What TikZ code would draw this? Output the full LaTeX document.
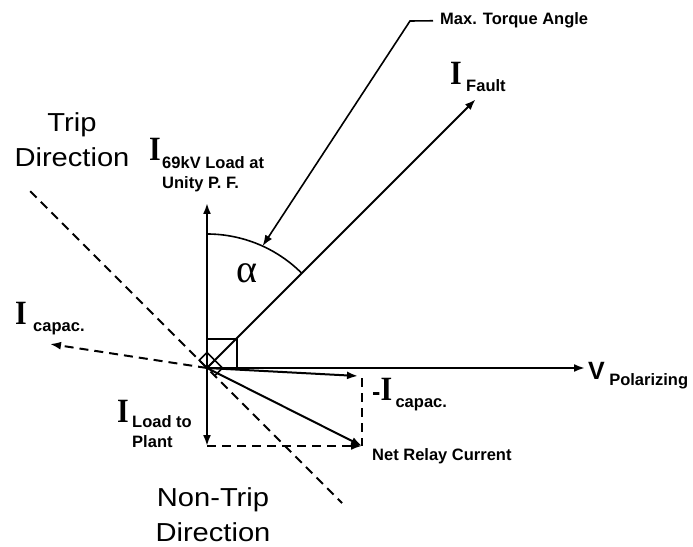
\documentclass[tikz,border=0pt]{standalone}
\usepackage{fontspec}
\setmainfont{Liberation Sans}
\newfontfamily\dirfont[FakeStretch=1.12]{Liberation Sans}
\newfontfamily\phasorfont[FakeStretch=0.88]{Liberation Serif}
\newfontfamily\greekfont{Liberation Serif}
\usetikzlibrary{arrows.meta,calc}

\begin{document}
\begin{tikzpicture}[
  x=1pt, y=1pt,
  arr/.style={-{Latex[length=11pt,width=8pt]}},
  vec/.style={arr, line width=2pt},
  dsh/.style={line width=2pt, dash pattern=on 9pt off 6pt},
  ang/.style={line width=1.6pt},
  sym/.style={inner sep=0pt, font=\phasorfont\bfseries\fontsize{34}{34}\selectfont},
  vsym/.style={inner sep=0pt, font=\bfseries\fontsize{25}{25}\selectfont},
  sub/.style={inner sep=0pt, font=\bfseries\fontsize{16.5}{20}\selectfont, align=left},
  dirlab/.style={inner sep=0pt, font=\dirfont\fontsize{26}{35}\selectfont, align=center}
]
\useasboundingbox (-207,-178) rectangle (486,368);
% origin and phasor tips
\coordinate (O) at (0,0);
\coordinate (unity) at (0,165);
\coordinate (load) at (0,-78);
\coordinate (vpol) at (378,0);
\coordinate (fault) at (45:380);
\coordinate (trip) at (135:250);
\coordinate (nontrip) at (-45:191);
\coordinate (cap) at (-157,24);
\coordinate (negcap) at (151,-8);
\coordinate (corner) at (155,-10);
\coordinate (net) at (155,-78);
\coordinate (tq) at (65.5:134);
\coordinate (knee) at (203,347);
% phasors
\draw[vec] (O) -- (unity);
\draw[vec] (O) -- (load);
\draw[vec] (O) -- (vpol);
\draw[vec] (O) -- (fault);
\draw[vec] (O) -- (negcap);
\draw[vec] (O) -- (net);
\draw[dsh, arr] (O) -- (cap);
\draw[dsh] (trip) -- (nontrip);
\draw[dsh, arr] (load) -- (net);
\draw[dsh] (corner) -- (net);
% right angle marks
\draw[ang] (O) rectangle (30,29);
\draw[ang] (O) -- (45:11) -- ++(135:11) -- (135:11) -- cycle;
\draw[ang] (45:11) -- ++(-45:11) -- (-45:11);
% max. torque angle
\draw[ang] (90:134) arc[start angle=90, end angle=45, radius=134];
\node[font=\greekfont\fontsize{40}{40}\selectfont] (alpha) at (40,95) {α};
\node[sub, anchor=base west] (mta) at (233,343) {Max. Torque Angle};
\draw[ang, arr] ([xshift=-7pt]mta.west) -- (knee) -- (tq);
% labels
\node[sym, anchor=base west] (ifault) at (243,283) {I};
\node[sub, anchor=base west] (lfault) at ($(ifault.base east)+(4,-7)$) {Fault};
\node[sym, anchor=base west] (iunity) at (-58,207) {I};
\node[sub, anchor=north west] (lunity) at ($(iunity.base east)+(1,5)$) {69kV Load at\\Unity P. F.};
\node[sym, anchor=base west] (icap) at (-192,43) {I};
\node[sub, anchor=base west] (lcap) at ($(icap.base east)+(6,-7)$) {capac.};
\node[sym, anchor=base west] (inegcap) at (165,-32) {{\normalfont\bfseries\fontsize{25}{25}\selectfont -}I};
\node[sub, anchor=base west] (lnegcap) at ($(inegcap.base east)+(3,-7)$) {capac.};
\node[sym, anchor=base west] (iload) at (-90,-54) {I};
\node[sub, anchor=north west] (lload) at ($(iload.base east)+(3,7)$) {Load to\\Plant};
\node[vsym, anchor=base west] (vsym) at (381,-11) {V};
\node[sub, anchor=base west] (lpol) at ($(vsym.base east)+(4,-6)$) {Polarizing};
\node[sub, anchor=base west] (lnet) at (165,-92) {Net Relay Current};
\node[dirlab, anchor=north] (ltrip) at (-135,256) {Trip\\Direction};
\node[dirlab, anchor=north] (lnontrip) at (6,-119) {Non-Trip\\Direction};
\end{tikzpicture}
\end{document}
